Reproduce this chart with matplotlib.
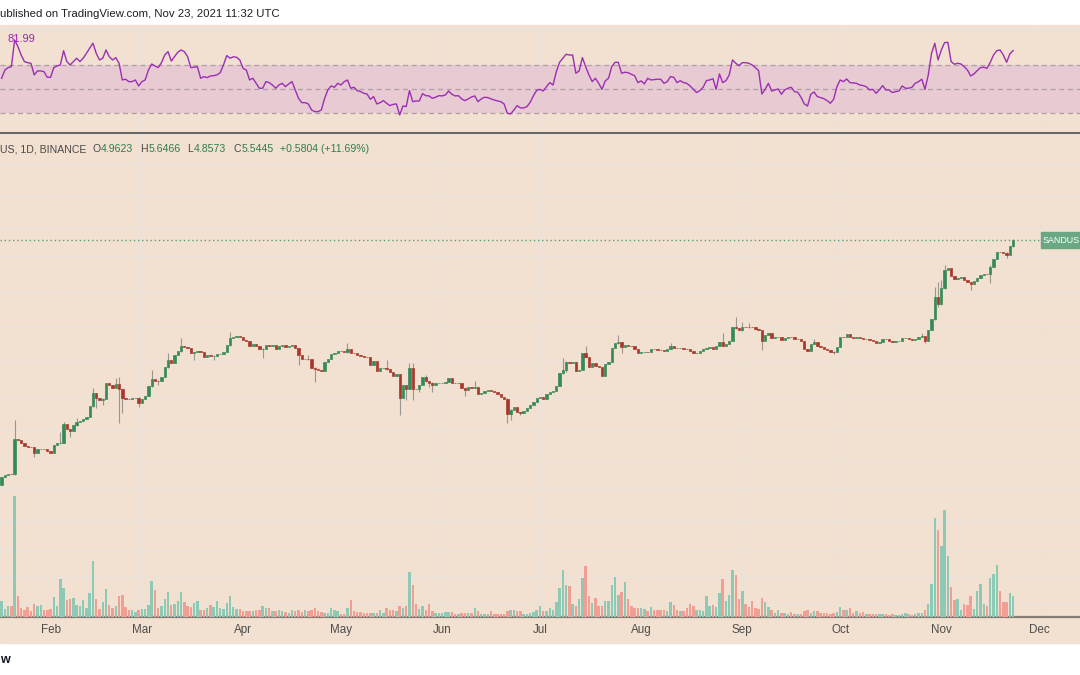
import numpy as np
import pandas as pd
import matplotlib
matplotlib.use('Agg')
import matplotlib.pyplot as plt
import matplotlib.dates as mdates
from matplotlib.patches import Rectangle
from matplotlib.ticker import NullLocator

plt.rcParams['font.family'] = ['Liberation Sans', 'DejaVu Sans']

# SAND/USDT daily candles (Binance), 17 Jan - 23 Nov 2021
start_date = '2021-01-17'
first_open = 0.0503
closes = [
    0.0590, 0.0609, 0.0621, 0.0617, 0.1215, 0.1190, 0.1135, 0.1070, 0.1050, 0.1040,
    0.0924, 0.0998, 0.1005, 0.0998, 0.0965, 0.0935, 0.1083, 0.1120, 0.1135, 0.161,
    0.147, 0.142, 0.158, 0.168, 0.172, 0.178, 0.184, 0.229, 0.292, 0.265,
    0.257, 0.263, 0.354, 0.340, 0.325, 0.347, 0.320, 0.265, 0.263, 0.260,
    0.265, 0.270, 0.244, 0.263, 0.277, 0.336, 0.382, 0.372, 0.368, 0.402,
    0.487, 0.554, 0.520, 0.605, 0.658, 0.725, 0.715, 0.697, 0.629, 0.642,
    0.654, 0.650, 0.590, 0.613, 0.598, 0.602, 0.621, 0.625, 0.650, 0.739,
    0.840, 0.856, 0.878, 0.861, 0.813, 0.797, 0.725, 0.748, 0.725, 0.684,
    0.689, 0.734, 0.731, 0.736, 0.689, 0.725, 0.734, 0.706, 0.729, 0.739,
    0.697, 0.605, 0.561, 0.565, 0.561, 0.478, 0.463, 0.457, 0.448, 0.534,
    0.565, 0.621, 0.637, 0.658, 0.654, 0.642, 0.689, 0.637, 0.634, 0.613,
    0.598, 0.590, 0.582, 0.503, 0.543, 0.448, 0.472, 0.475, 0.466, 0.443,
    0.408, 0.421, 0.265, 0.340, 0.320, 0.472, 0.320, 0.316, 0.340, 0.397,
    0.368, 0.358, 0.340, 0.356, 0.358, 0.360, 0.365, 0.392, 0.360, 0.354,
    0.356, 0.322, 0.310, 0.329, 0.325, 0.332, 0.290, 0.294, 0.305, 0.310,
    0.308, 0.300, 0.290, 0.274, 0.262, 0.198, 0.211, 0.225, 0.203, 0.200,
    0.208, 0.222, 0.232, 0.247, 0.269, 0.272, 0.262, 0.287, 0.300, 0.304,
    0.336, 0.429, 0.460, 0.531, 0.527, 0.534, 0.446, 0.457, 0.633, 0.586,
    0.487, 0.527, 0.494, 0.482, 0.411, 0.513, 0.534, 0.697, 0.768, 0.780,
    0.711, 0.734, 0.725, 0.721, 0.684, 0.633, 0.642, 0.646, 0.642, 0.689,
    0.680, 0.671, 0.667, 0.654, 0.684, 0.721, 0.702, 0.693, 0.697, 0.689,
    0.684, 0.662, 0.633, 0.637, 0.654, 0.680, 0.702, 0.706, 0.689, 0.725,
    0.780, 0.725, 0.753, 0.803, 1.036, 1.030, 0.985, 1.050, 1.048, 1.044,
    1.036, 1.010, 0.985, 0.803, 0.895, 0.924, 0.850, 0.856, 0.867, 0.808,
    0.850, 0.867, 0.861, 0.828, 0.829, 0.793, 0.680, 0.654, 0.753, 0.780,
    0.729, 0.711, 0.689, 0.671, 0.642, 0.641, 0.715, 0.861, 0.856, 0.906,
    0.867, 0.845, 0.856, 0.845, 0.823, 0.828, 0.808, 0.793, 0.768, 0.788,
    0.834, 0.823, 0.793, 0.788, 0.797, 0.803, 0.840, 0.841, 0.823, 0.818,
    0.828, 0.867, 0.878, 0.793, 0.985, 1.21, 1.84, 1.62, 2.19, 3.12,
    3.22, 2.78, 2.62, 2.66, 2.71, 2.57, 2.46, 2.38, 2.54, 2.69,
    2.81, 2.90, 2.88, 3.32, 3.82, 4.40, 4.37, 4.35, 4.18, 4.9623,
    5.5445,
]
volumes = [
    16, 8.3, 11.3, 11.3, 120.7, 20.7, 8.7, 6.7, 9.7, 6,
    12.7, 10.7, 11.7, 7.3, 6.7, 7.7, 20.3, 11.3, 38.3, 29.3,
    16.7, 18.3, 19, 11.7, 11, 17.3, 8.7, 24.3, 56.3, 17.7,
    7.7, 14.7, 28.3, 12.3, 9.3, 11, 20.7, 22.3, 10, 6.7,
    6.7, 5, 7.3, 8, 8.3, 12.3, 36, 26.7, 9.3, 11,
    17.7, 25.3, 11.7, 12.7, 16.3, 25.3, 15.3, 11, 9.7, 13.7,
    16.3, 7, 7, 8.7, 12.3, 9.7, 16.3, 9.3, 7.7, 13.7,
    20.7, 10, 7.7, 8.3, 6.3, 5.7, 5.7, 5.7, 7.3, 7.3,
    10.7, 9, 9.3, 5.7, 5.7, 6.7, 5.7, 4.7, 4, 6.7,
    5.7, 7.3, 4.7, 6.7, 6, 6.7, 8.7, 6, 5, 4.3,
    4.3, 8.7, 6.7, 6, 3.3, 3.3, 8.7, 17.3, 5.7, 5,
    5, 4, 4, 4.3, 4.3, 4.3, 6.7, 4.3, 9.3, 6.7,
    6.7, 5.7, 11.3, 8.7, 10.7, 44.7, 31.7, 13.3, 8.3, 11,
    7.3, 12.7, 5.7, 4, 4, 4, 4.7, 5.3, 4.7, 3.3,
    3, 4, 4.3, 4.3, 4, 9.3, 6.3, 3, 3.3, 3.3,
    5.7, 3, 2.7, 2.7, 3, 5.7, 7.3, 7.3, 5.7, 6,
    2.7, 2.7, 4, 5, 6.7, 10.7, 5.7, 5.7, 9, 6.7,
    15, 29, 47.3, 32.3, 30.7, 12.7, 11, 17.7, 39.3, 50.7,
    20.7, 14, 19, 11, 10.7, 16, 16, 31.7, 40, 22.3,
    25, 35, 18.3, 10.7, 9, 9, 9, 8.3, 5.7, 10,
    6.7, 7.3, 7.3, 7.3, 5.7, 15, 11.7, 7.3, 5.7, 5.7,
    9, 12.7, 10.7, 7.3, 6.7, 5.7, 21.3, 10.7, 12.3, 10,
    24, 37.7, 16, 21.7, 47.3, 42.3, 17.7, 25.7, 13.3, 10,
    15.7, 9, 8.3, 19.3, 15, 10, 6.7, 4, 6.7, 4.3,
    4, 3.3, 5, 3.3, 2.7, 2.7, 5.7, 6.7, 4.3, 5.7,
    5.7, 4.3, 4, 4, 3.3, 4.3, 5, 10, 6.7, 6.7,
    9.3, 4.3, 5.7, 4.3, 5, 3.3, 2.7, 3.3, 3.3, 3.3,
    3.3, 3.3, 2.3, 2.7, 2.3, 2.3, 3.3, 4, 2.7, 1.7,
    3.3, 4, 4.3, 6.7, 13.3, 33.3, 99.3, 87.3, 71, 107.3,
    60.7, 30, 16.7, 18.3, 6.7, 13.3, 11.7, 20.7, 8.3, 25.7,
    33.3, 12.7, 10.7, 39.3, 42.7, 51.7, 25.7, 15, 15, 24.3,
    21,
]
rsi_values = [
    58.9, 65.8, 67.8, 68.6, 90.8, 85.3, 78.3, 72.8, 71.9, 71.4,
    61.7, 65.0, 65.0, 64.4, 59.7, 59.7, 67.8, 69.2, 70.0, 81.9,
    72.8, 70.0, 72.8, 75.6, 72.8, 75.6, 79.7, 84.0, 88.1, 79.7,
    74.2, 75.6, 82.5, 76.9, 74.2, 76.1, 71.4, 57.5, 58.1, 56.1,
    56.1, 57.5, 52.5, 56.1, 57.5, 65.8, 70.8, 69.2, 67.8, 71.9,
    78.3, 81.1, 73.3, 76.9, 80.6, 82.5, 81.1, 76.9, 67.8, 68.1,
    68.6, 58.9, 60.3, 59.4, 60.8, 61.1, 61.7, 63.6, 70.0, 77.8,
    75.6, 76.8, 76.4, 74.2, 67.2, 65.8, 57.5, 58.9, 54.7, 50.6,
    50.6, 56.1, 55.3, 53.3, 50.6, 53.3, 54.7, 51.9, 54.2, 56.1,
    49.2, 42.2, 38.6, 38.6, 37.5, 32.5, 31.1, 31.1, 32.5, 42.2,
    49.2, 52.5, 51.4, 54.7, 53.3, 56.1, 57.5, 50.6, 51.4, 48.6,
    47.8, 46.4, 45.8, 41.4, 43.6, 37.5, 38.6, 40.3, 38.1, 36.1,
    37.2, 37.5, 28.3, 35.8, 35.3, 48.6, 39.4, 40.0, 40.0, 46.1,
    44.4, 44.2, 42.2, 43.1, 44.4, 44.2, 45.0, 48.3, 45.6, 44.2,
    44.4, 41.7, 40.3, 41.7, 43.3, 44.2, 39.4, 41.7, 43.1, 42.8,
    41.7, 40.8, 40.0, 39.4, 37.5, 29.7, 29.2, 32.5, 36.1, 34.2,
    34.2, 35.3, 38.9, 44.4, 48.9, 49.7, 48.3, 51.9, 55.3, 53.3,
    64.4, 72.2, 75.6, 78.9, 78.3, 78.3, 63.1, 65.0, 76.1, 68.6,
    61.7, 56.1, 58.9, 54.7, 49.7, 56.7, 58.9, 68.6, 72.2, 72.2,
    63.1, 63.9, 63.6, 62.2, 61.1, 55.3, 56.7, 54.2, 58.9, 57.5,
    57.8, 58.1, 58.1, 54.7, 56.1, 60.3, 59.7, 55.3, 56.9, 55.3,
    54.7, 52.5, 49.7, 47.0, 48.6, 51.4, 56.9, 57.5, 58.6, 49.7,
    62.5, 55.3, 56.9, 61.7, 74.2, 71.4, 69.4, 71.9, 71.9, 71.4,
    70.0, 67.8, 65.3, 45.8, 49.7, 54.7, 48.3, 49.2, 50.0, 45.6,
    49.2, 50.6, 51.4, 47.8, 47.2, 43.1, 37.5, 35.8, 45.6, 47.5,
    43.6, 42.8, 41.9, 40.3, 38.1, 41.4, 51.9, 57.5, 56.1, 58.3,
    55.3, 55.0, 54.7, 53.3, 52.8, 51.9, 49.2, 49.7, 46.4, 49.2,
    52.8, 49.2, 49.2, 47.0, 47.8, 48.3, 52.5, 50.6, 50.6, 51.4,
    54.7, 56.1, 58.1, 49.7, 61.7, 79.7, 88.1, 74.2, 82.5, 88.6,
    88.9, 72.8, 70.6, 71.4, 70.8, 68.6, 65.8, 60.8, 62.5, 65.3,
    67.8, 68.1, 67.2, 72.2, 78.3, 81.9, 82.5, 78.3, 72.2, 79.2,
    81.99,
]
# candles with visible wicks: day index, high, low
wick_days = [4, 10, 18, 19, 21, 23, 28, 29, 31, 35, 36, 37, 42, 46, 48, 51, 55, 59, 65, 70,
             80, 91, 94, 96, 106, 118, 122, 124, 125, 126, 128, 130, 131, 132, 142, 145, 155, 156, 159, 172,
             173, 179, 189, 190, 205, 221, 225, 227, 229, 233, 249, 255, 282, 283, 286, 287, 288, 289, 297, 303,
             308, 310]
wick_highs = [0.175, 0.104, 0.140, 0.170, 0.148, 0.181, 0.322, 0.296, 0.268, 0.390, 0.402, 0.322, 0.272, 0.457, 0.380, 0.629, 0.840, 0.650, 0.610, 0.954,
              0.700, 0.700, 0.609, 0.485, 0.763, 0.554, 0.425, 0.345, 0.520, 0.520, 0.345, 0.415, 0.372, 0.362, 0.325, 0.374, 0.265, 0.216, 0.206, 0.571,
              0.540, 0.725, 0.895, 0.790, 0.773, 0.924, 1.257, 1.157, 1.135, 0.990, 0.826, 0.660, 0.924, 0.885, 2.26, 2.47, 2.57, 3.43, 2.48, 3.40,
              4.40, 5.6466]
wick_lows = [0.0605, 0.0867, 0.110, 0.112, 0.127, 0.156, 0.226, 0.219, 0.233, 0.322, 0.164, 0.199, 0.223, 0.333, 0.343, 0.480, 0.650, 0.554, 0.554, 0.730,
             0.572, 0.503, 0.550, 0.365, 0.635, 0.460, 0.193, 0.257, 0.315, 0.257, 0.302, 0.362, 0.332, 0.302, 0.278, 0.322, 0.167, 0.175, 0.193, 0.425,
             0.443, 0.580, 0.760, 0.629, 0.680, 0.720, 1.000, 0.975, 1.020, 0.671, 0.748, 0.621, 0.860, 0.763, 1.19, 1.53, 1.60, 2.15, 2.12, 2.41,
             3.89, 4.8573]
price_grid = [24.3, 12.9, 6.98, 4.08, 2.04, 1.045, 0.533, 0.2725, 0.1447, 0.0798,
              0.0466, 0.0252, 0.0142, 0.00862, 0.00513]
month_ticks = ['2021-02-01', '2021-03-01', '2021-04-01', '2021-05-01', '2021-06-01', '2021-07-01',
               '2021-08-01', '2021-09-01', '2021-10-01', '2021-11-01', '2021-12-01']
month_labels = ['Feb', 'Mar', 'Apr', 'May', 'Jun', 'Jul', 'Aug', 'Sep', 'Oct', 'Nov', 'Dec']
last_close = 5.5445
ohlc_letters = ['O', 'H', 'L', 'C']
ohlc_values = ['4.9623', '5.6466', '4.8573', '5.5445']
change_text = '+0.5804 (+11.69%)'
rsi_label = '81.99'

W, H = 1080, 675
BG = '#f2e0d0'
GRID = '#ebe3dc'
UP, DOWN = '#368a57', '#a8382b'
VOL_UP, VOL_DOWN = '#8dcab6', '#f19f95'
GREEN_TXT = '#2f7d50'
GRAY_TXT = '#4a4a4a'


def box(x0, y0, x1, y1):
    # pixel box (top-left origin) -> figure fraction rect
    return [x0 / W, 1 - y1 / H, (x1 - x0) / W, (y1 - y0) / H]


def put(x, y, s, **kw):
    return fig.text(x / W, 1 - y / H, s, va='center', ha='left', **kw)


def put_next(x, y, s, **kw):
    # draw text and return its right edge in pixels
    t = put(x, y, s, **kw)
    return t.get_window_extent(renderer).x1


dates = pd.date_range(start_date, periods=len(closes), freq='D')
x = mdates.date2num(dates)
c = np.array(closes)
o = np.array([first_open] + closes[:-1])
up = c >= o
ticks = mdates.date2num(pd.to_datetime(month_ticks))
xlim = (x[0] - 0.49, x[0] + 330.5)

fig = plt.figure(figsize=(W / 100, H / 100), dpi=100, facecolor='white')
renderer = fig.canvas.get_renderer()
fig.add_artist(Rectangle((0, 1 - 643 / H), 1, (643 - 25) / H, transform=fig.transFigure,
                         color=BG, zorder=0))

# RSI pane
rax = fig.add_axes(box(0, 25, W, 133), facecolor=BG)
rax.set_xlim(xlim)
rax.set_ylim(13.3, 103.3)
rax.axhspan(30, 70, color='#e8cad3', lw=0)
for lvl in (70, 50, 30):
    rax.axhline(lvl, color='#ad9fa4', lw=0.9, ls=(0, (4, 3)))
rax.plot(x, rsi_values, color='#9c2fb3', lw=1.0)
rax.set_xticks(ticks)
rax.set_yticks([25, 100])
rax.grid(True, color=GRID, lw=1)
rax.set_axisbelow(True)
rax.tick_params(length=0, labelbottom=False, labelleft=False)
for s in ('top', 'left', 'right'):
    rax.spines[s].set_visible(False)
rax.spines['bottom'].set_color('#4d4d4d')
rax.spines['bottom'].set_linewidth(1.2)

# price pane (log scale)
ax = fig.add_axes(box(0, 134, W, 617), facecolor=BG)
ax.set_yscale('log')
ax.set_xlim(xlim)
ax.set_ylim(0.0040, 42.4)
ax.set_yticks(price_grid)
ax.yaxis.set_minor_locator(NullLocator())
ax.set_xticks(ticks, labels=month_labels)
ax.grid(True, color=GRID, lw=1)
ax.set_axisbelow(True)
ax.tick_params(axis='y', length=0, labelleft=False)
ax.tick_params(axis='x', length=0, pad=5, labelsize=8.4, labelcolor='#4d4d4d')
for s in ('top', 'left', 'right'):
    ax.spines[s].set_visible(False)
ax.spines['bottom'].set_color('#867d76')
ax.spines['bottom'].set_linewidth(1.6)

wx = x[wick_days]
ax.vlines(wx, wick_lows, wick_highs, color='#7c7c7c', lw=0.8, alpha=0.75, zorder=2)
body_lo = np.minimum(o, c)
body_h = np.abs(c - o)
cols = np.where(up, UP, DOWN)
ax.bar(x, body_h, bottom=body_lo, width=0.72, color=cols, edgecolor=cols, lw=0.5, zorder=3)
ax.axhline(last_close, xmax=1040 / W, color='#5e9f7b', lw=1, ls=(0, (1, 2)), zorder=1)

# volume overlay
vax = fig.add_axes(box(0, 134, W, 617), facecolor='none')
vax.set_xlim(xlim)
vax.set_ylim(0, 483)
vax.bar(x, volumes, width=0.75, color=np.where(up, VOL_UP, VOL_DOWN), lw=0)
vax.axis('off')

# texts
put(0, 14, 'ublished on TradingView.com, Nov 23, 2021 11:32 UTC', fontsize=8.2, color='#1f1f1f')
put(8, 39, rsi_label, fontsize=8, color='#9c27b0')
fs = 7.6
px = put_next(0, 149, 'US, 1D, BINANCE', fontsize=fs, color=GRAY_TXT) + 6
for letter, val in zip(ohlc_letters, ohlc_values):
    px = put_next(px, 149, letter, fontsize=fs, color=GRAY_TXT) + 0.5
    px = put_next(px, 149, val, fontsize=fs, color=GREEN_TXT) + 7
put(px, 149, change_text, fontsize=fs, color=GREEN_TXT)

fig.add_artist(Rectangle((1041 / W, 1 - 248 / H), 39 / W, 16 / H, transform=fig.transFigure,
                         color='#6aa884', zorder=5))
put(1043, 240, 'SANDUS', fontsize=6.4, color='white', zorder=6)
put(0, 660, 'w', fontsize=9, color='#131722', weight='bold')

fig.savefig('out.png', dpi=100, facecolor='white')
